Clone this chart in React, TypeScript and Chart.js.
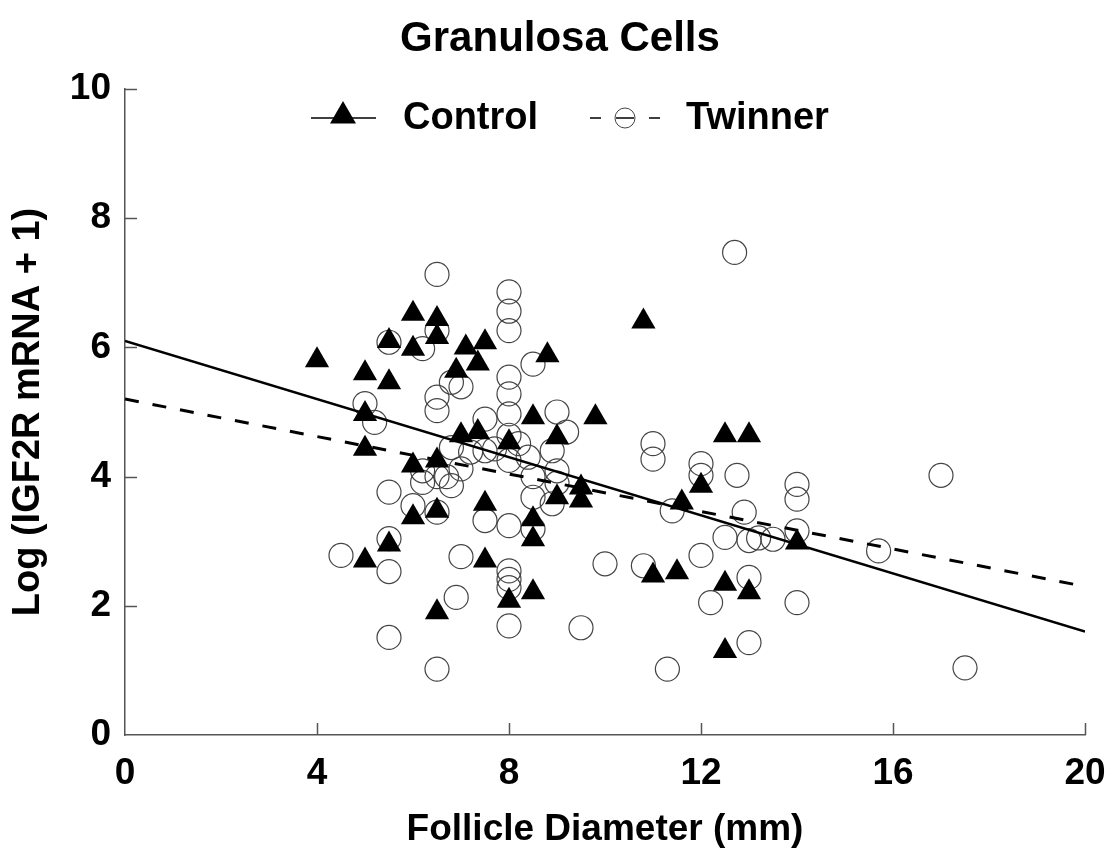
import React, { useEffect, useRef } from 'react';
import { Chart, registerables } from 'chart.js';

Chart.register(...registerables);

// ---- data ----
const controlX = [4.0, 5.0, 5.0, 5.0, 5.0, 5.5, 5.5, 5.5, 6.0, 6.0, 6.0, 6.0, 6.5, 6.5, 6.5, 6.5, 6.5, 6.9, 7.0, 7.1, 7.35, 7.35, 7.5, 7.5, 7.5, 8.0, 8.0, 8.5, 8.5, 8.5, 8.5, 8.8, 9.0, 9.0, 9.5, 9.5, 9.8, 10.8, 11.0, 11.5, 11.6, 12.0, 12.5, 12.5, 12.5, 13.0, 13.0, 14.0];
const controlY = [5.8, 5.6, 4.97, 4.43, 2.7, 6.1, 5.46, 2.95, 6.52, 5.98, 4.17, 3.37, 6.44, 6.16, 4.25, 3.47, 1.9, 5.64, 4.64, 6.0, 5.75, 4.69, 6.08, 3.58, 2.7, 4.53, 2.08, 4.92, 3.34, 3.03, 2.21, 5.88, 4.61, 3.68, 3.83, 3.63, 4.92, 6.4, 2.47, 2.52, 3.6, 3.86, 4.64, 2.34, 1.3, 4.64, 2.21, 2.98];

const twinnerX = [4.5, 5.0, 5.2, 5.5, 5.5, 5.5, 5.5, 5.5, 6.0, 6.2, 6.2, 6.2, 6.5, 6.5, 6.5, 6.5, 6.5, 6.5, 6.5, 6.7, 6.8, 6.8, 6.8, 6.9, 7.0, 7.0, 7.0, 7.2, 7.5, 7.5, 7.5, 7.7, 8.0, 8.0, 8.0, 8.0, 8.0, 8.0, 8.0, 8.0, 8.0, 8.0, 8.0, 8.0, 8.0, 8.2, 8.4, 8.5, 8.5, 8.5, 8.5, 8.9, 8.9, 9.0, 9.0, 9.0, 9.2, 9.5, 10.0, 10.8, 11.0, 11.0, 11.3, 11.4, 12.0, 12.0, 12.0, 12.2, 12.5, 12.7, 12.75, 12.9, 13.0, 13.0, 13.0, 13.2, 13.5, 14.0, 14.0, 14.0, 14.0, 15.7, 17.0, 17.5];
const twinnerY = [2.78, 5.13, 4.84, 6.08, 3.76, 3.04, 2.53, 1.51, 3.55, 5.98, 4.09, 3.91, 7.13, 6.26, 5.23, 5.02, 4.0, 3.45, 1.02, 4.0, 5.46, 4.45, 3.86, 2.13, 5.39, 4.12, 2.76, 4.38, 4.89, 4.4, 3.32, 4.43, 6.86, 6.56, 6.26, 5.54, 5.28, 4.97, 4.64, 4.25, 3.24, 2.54, 2.41, 2.28, 1.69, 4.51, 4.3, 5.74, 4.0, 3.68, 3.19, 4.4, 3.58, 5.0, 4.09, 3.9, 4.69, 1.66, 2.65, 2.62, 4.51, 4.27, 1.02, 3.47, 4.2, 4.02, 2.78, 2.05, 3.06, 7.47, 4.02, 3.45, 3.01, 2.44, 1.43, 3.05, 3.03, 3.88, 3.65, 3.16, 2.05, 2.85, 4.02, 1.04];

const fitX = [0, 20];
const controlFitY = [6.1, 1.6];
const twinnerFitY = [5.2, 2.3];

const xTicks = [0, 4, 8, 12, 16, 20];
const yTicks = [0, 2, 4, 6, 8, 10];

const seriesNames = ['Control', 'Twinner'];
const chartTitle = 'Granulosa Cells';
const xTitle = 'Follicle Diameter (mm)';
const yTitle = 'Log (IGF2R mRNA + 1)';

const FONT = '"Liberation Sans", Arial, Helvetica, sans-serif';
const AXIS_COLOR = '#555';
const CIRCLE_COLOR = '#444';

const toPoints = (xs: number[], ys: number[]) => xs.map((x, i) => ({ x, y: ys[i] }));

const insideTicks = {
  id: 'insideTicks',
  beforeDatasetsDraw(chart: any) {
    const { ctx, chartArea, scales } = chart;
    ctx.save();
    ctx.strokeStyle = AXIS_COLOR;
    ctx.lineWidth = 1.5;
    xTicks.forEach((v) => {
      if (v === xTicks[0]) return;
      const px = Math.round(scales.x.getPixelForValue(v)) + 0.5;
      ctx.beginPath();
      ctx.moveTo(px, chartArea.bottom);
      ctx.lineTo(px, chartArea.bottom - 12);
      ctx.stroke();
    });
    yTicks.forEach((v) => {
      if (v === yTicks[0]) return;
      const py = Math.round(scales.y.getPixelForValue(v)) + 0.5;
      ctx.beginPath();
      ctx.moveTo(chartArea.left, py);
      ctx.lineTo(chartArea.left + 12, py);
      ctx.stroke();
    });
    ctx.restore();
  },
};

const titleAndLegend = {
  id: 'titleAndLegend',
  afterDraw(chart: any) {
    const { ctx } = chart;
    ctx.save();
    // title
    ctx.fillStyle = '#000';
    ctx.font = `bold 42px ${FONT}`;
    ctx.textAlign = 'center';
    ctx.textBaseline = 'middle';
    ctx.fillText(chartTitle, 560, 39);

    const y = 118;
    // Control symbol: line with triangle
    ctx.strokeStyle = '#000';
    ctx.lineWidth = 1.5;
    ctx.beginPath();
    ctx.moveTo(311, y);
    ctx.lineTo(376, y);
    ctx.stroke();
    const r = 15;
    const cx = 343;
    const cy = y - 2;
    ctx.fillStyle = '#000';
    ctx.beginPath();
    ctx.moveTo(cx, cy - r);
    ctx.lineTo(cx + r * Math.sin((2 * Math.PI) / 3), cy - r * Math.cos((2 * Math.PI) / 3));
    ctx.lineTo(cx + r * Math.sin((4 * Math.PI) / 3), cy - r * Math.cos((4 * Math.PI) / 3));
    ctx.closePath();
    ctx.fill();
    // Twinner symbol: dashes with circle
    ctx.lineWidth = 1.5;
    ctx.strokeStyle = '#000';
    ctx.beginPath();
    ctx.moveTo(590, y);
    ctx.lineTo(601, y);
    ctx.moveTo(616, y);
    ctx.lineTo(634, y);
    ctx.moveTo(649, y);
    ctx.lineTo(660, y);
    ctx.stroke();
    ctx.strokeStyle = CIRCLE_COLOR;
    ctx.lineWidth = 1;
    ctx.beginPath();
    ctx.arc(625, y, 10, 0, Math.PI * 2);
    ctx.stroke();
    // legend texts
    ctx.fillStyle = '#000';
    ctx.font = `bold 38px ${FONT}`;
    ctx.textBaseline = 'middle';
    ctx.textAlign = 'left';
    ctx.fillText(seriesNames[0], 403, y + 1);
    ctx.fillText(seriesNames[1], 686, y + 1);
    ctx.restore();
  },
};

export default function App() {
  const canvasRef = useRef<HTMLCanvasElement | null>(null);

  useEffect(() => {
    document.body.style.margin = '0';
    const canvas = canvasRef.current;
    if (!canvas) return;

    const chart = new Chart(canvas, {
      type: 'scatter',
      data: {
        datasets: [
          {
            label: seriesNames[0] + ' fit',
            data: toPoints(fitX, controlFitY),
            showLine: true,
            borderColor: '#000',
            borderWidth: 2.5,
            pointRadius: 0,
            order: 0,
          },
          {
            label: seriesNames[1] + ' fit',
            data: toPoints(fitX, twinnerFitY),
            showLine: true,
            borderColor: '#000',
            borderWidth: 3,
            borderDash: [14, 14],
            pointRadius: 0,
            order: 1,
          },
          {
            label: seriesNames[0],
            data: toPoints(controlX, controlY),
            pointStyle: 'triangle',
            pointRadius: 14,
            backgroundColor: '#000',
            borderColor: '#000',
            borderWidth: 0,
            order: 2,
          },
          {
            label: seriesNames[1],
            data: toPoints(twinnerX, twinnerY),
            pointStyle: 'circle',
            pointRadius: 12,
            backgroundColor: 'rgba(0,0,0,0)',
            borderColor: CIRCLE_COLOR,
            borderWidth: 1.2,
            order: 3,
          },
        ],
      },
      options: {
        responsive: false,
        animation: false,
        devicePixelRatio: 1,
        layout: { padding: { left: 0, right: 30, top: 89, bottom: 0 } },
        plugins: {
          legend: { display: false },
          tooltip: { enabled: false },
          title: { display: false },
        },
        scales: {
          x: {
            type: 'linear',
            min: 0,
            max: 20,
            afterBuildTicks: (s: any) => {
              s.ticks = xTicks.map((v) => ({ value: v }));
            },
            afterFit: (s: any) => {
              s.height = 124;
              s.paddingLeft = 0;
              s.paddingRight = 0;
            },
            grid: { display: false, drawTicks: false },
            border: { display: true, color: AXIS_COLOR, width: 1.5 },
            ticks: {
              color: '#000',
              padding: 17,
              maxRotation: 0,
              font: { family: FONT, size: 37, weight: 'bold' },
            },
            title: {
              display: true,
              text: xTitle,
              color: '#000',
              font: { family: FONT, size: 37, weight: 'bold' },
              padding: { top: 0, bottom: 7 },
            },
          },
          y: {
            type: 'linear',
            min: 0,
            max: 10,
            afterBuildTicks: (s: any) => {
              s.ticks = yTicks.map((v) => ({ value: v }));
            },
            afterFit: (s: any) => {
              s.width = 125;
              s.paddingTop = 0;
              s.paddingBottom = 0;
            },
            grid: { display: false, drawTicks: false },
            border: { display: true, color: AXIS_COLOR, width: 1.5 },
            ticks: {
              color: '#000',
              padding: 14,
              font: { family: FONT, size: 37, weight: 'bold' },
            },
            title: {
              display: true,
              text: yTitle,
              color: '#000',
              font: { family: FONT, size: 38, weight: 'bold' },
              padding: { top: 6, bottom: 0 },
            },
          },
        },
      },
      plugins: [insideTicks, titleAndLegend],
    } as any);
    return () => chart.destroy();
  }, []);

  return (
    <div style={{ width: 1115, height: 859, background: '#fff' }}>
      <canvas ref={canvasRef} width={1115} height={859} style={{ display: 'block' }} />
    </div>
  );
}
